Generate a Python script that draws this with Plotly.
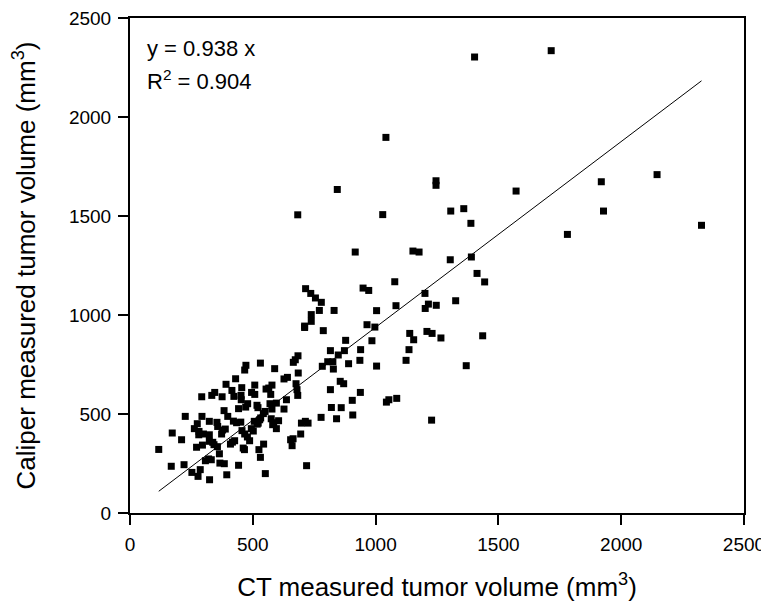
import plotly.graph_objects as go

# CT measured tumor volume (mm^3)
ct_volume = [
    684, 673, 665, 531, 472, 467, 589, 685, 641, 627, 430, 391, 508, 578, 565, 554, 455, 415,
    345, 333, 292, 375, 676, 680, 683, 495, 508, 423, 452, 453, 573, 637, 596, 570, 578, 479,
    471, 517, 521, 442, 627, 383, 550, 543, 532, 225, 293, 398, 323, 274, 354, 357, 421, 434,
    451, 506, 522, 528, 575, 585, 605, 581, 596, 262, 281, 299, 280, 323, 377, 388, 172, 210,
    456, 467, 494, 502, 478, 487, 518, 373, 664, 654, 660, 417, 426, 409, 323, 337, 342, 295,
    271, 356, 364, 461, 466, 544, 525, 531, 117, 320, 307, 331, 366, 384, 220, 168, 442, 286,
    252, 277, 394, 551, 324, 683,
    917, 1152, 1177, 1304, 1390, 1413, 1444, 715, 736, 755, 779, 771, 831, 738, 738, 711, 711,
    787, 949, 972, 1078, 1004, 1083, 1201, 1215, 1202, 1247, 1326, 965, 997, 985, 1139, 1155,
    1209, 1230, 1266, 1436, 878, 816, 873, 939, 848, 805, 826, 783, 828, 890, 936, 1004, 1136,
    1124, 1369, 856, 870, 816, 938, 905, 1044, 1054, 1086, 820, 860, 778, 841, 907, 1228, 698,
    714, 725, 695, 719,
    1403, 1715, 1042, 844, 1246, 1246, 1572, 1029, 1306, 1359, 1388, 1919, 2146, 1928, 1781, 2327,
]

# Caliper measured tumor volume (mm^3)
caliper_volume = [
    794, 774, 761, 757, 746, 722, 729, 707, 685, 677, 678, 650, 646, 646, 631, 626, 633, 619,
    609, 594, 587, 587, 653, 623, 594, 609, 599, 589, 594, 572, 599, 572, 555, 552, 525, 552,
    535, 544, 532, 527, 525, 517, 513, 502, 480, 488, 488, 488, 463, 451, 458, 437, 464, 456,
    459, 463, 454, 471, 476, 456, 466, 446, 426, 426, 412, 399, 395, 395, 419, 424, 404, 370,
    416, 399, 426, 414, 384, 365, 449, 399, 375, 370, 340, 358, 365, 348, 362, 357, 345, 343,
    332, 335, 299, 328, 320, 348, 320, 281, 321, 273, 264, 269, 252, 249, 244, 236, 241, 219,
    205, 185, 193, 199, 168, 1506,
    1318, 1323, 1318, 1279, 1293, 1210, 1167, 1133, 1109, 1086, 1064, 1023, 1023, 1002, 968,
    944, 937, 921, 1136, 1124, 1168, 1022, 1047, 1109, 1055, 1033, 1049, 1072, 951, 939, 870,
    907, 875, 917, 907, 884, 895, 872, 820, 820, 825, 798, 764, 764, 741, 727, 754, 771, 742,
    825, 771, 744, 665, 653, 623, 609, 569, 560, 572, 579, 533, 532, 483, 476, 495, 469, 454,
    463, 454, 399, 239,
    2303, 2335, 1897, 1634, 1678, 1655, 1626, 1507, 1525, 1537, 1463, 1673, 1709, 1525, 1407,
    1453,
]

fit_slope = 0.938
fit_r2 = 0.904
fit_x = [min(ct_volume), max(ct_volume)]
fit_y = [fit_slope * v for v in fit_x]

tick_vals = [0, 500, 1000, 1500, 2000, 2500]

FONT = "Liberation Sans, Arial, sans-serif"

fig = go.Figure()
fig.add_trace(go.Scatter(
    x=ct_volume, y=caliper_volume, mode="markers",
    marker=dict(symbol="square", size=7, color="black", line=dict(width=0)),
    showlegend=False, hoverinfo="x+y",
))
fig.add_trace(go.Scatter(
    x=fit_x, y=fit_y, mode="lines",
    line=dict(color="black", width=1),
    showlegend=False, hoverinfo="skip",
))

axis_common = dict(
    range=[0, 2500], tickvals=tick_vals, ticks="outside", ticklen=10, tickwidth=1.5,
    tickcolor="black", showline=True, linecolor="black", linewidth=2, mirror=True,
    showgrid=False, zeroline=False, tickfont=dict(family=FONT, size=19, color="black"),
    ticklabelstandoff=3, automargin=False, ticklabeloverflow="allow",
)

fig.update_layout(
    width=761, height=599,
    margin=dict(l=122, r=25, t=10, b=94),
    plot_bgcolor="white", paper_bgcolor="white",
    font=dict(family=FONT, color="black"),
    xaxis=dict(
        **axis_common,
        title=dict(text="CT measured tumor volume (mm<sup>3</sup>)",
                   font=dict(family=FONT, size=26, color="black"), standoff=24),
    ),
    yaxis=dict(
        **axis_common,
        title=dict(text="Caliper measured tumor volume (mm<sup>3</sup>)",
                   font=dict(family=FONT, size=26, color="black"), standoff=36),
    ),
    annotations=[
        dict(text=f"y = {fit_slope} x", xref="paper", yref="paper", x=0.025, y=0.938,
             xanchor="left", yanchor="middle", showarrow=False,
             font=dict(family=FONT, size=22, color="black")),
        dict(text=f"R<sup>2</sup> = {fit_r2}", xref="paper", yref="paper", x=0.025, y=0.874,
             xanchor="left", yanchor="middle", showarrow=False,
             font=dict(family=FONT, size=22, color="black")),
    ],
)

fig.write_html("out.html")
